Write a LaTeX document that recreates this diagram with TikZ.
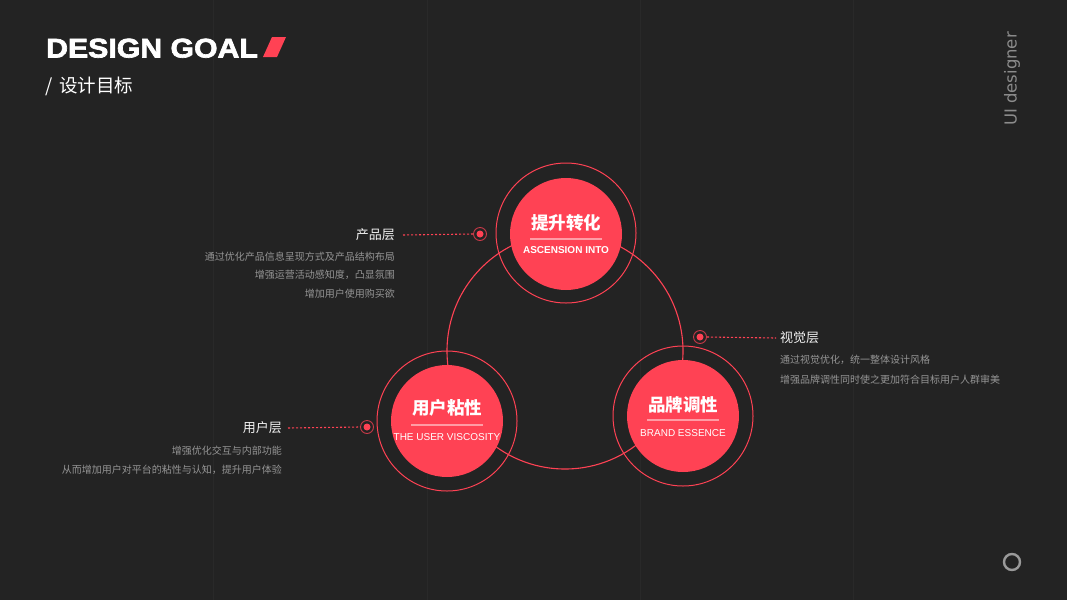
\documentclass[tikz,border=0pt]{standalone}
\usepackage{fontspec}
\setmainfont{Liberation Sans}
\newfontfamily\cjk{Noto Sans CJK SC}
\newfontfamily\titlefont[UprightFont={* Bold},FakeBold=2.5,FakeStretch=1.12]{Liberation Sans}
\newfontfamily\dvs{DejaVu Sans}
\definecolor{bg}{HTML}{232323}
\definecolor{gridc}{HTML}{292929}
\definecolor{accent}{HTML}{FF4254}
\definecolor{lightpink}{HTML}{FF9CA5}
\definecolor{txtgray}{HTML}{959595}
\definecolor{sidegray}{HTML}{8C8C8C}
\definecolor{pagegray}{HTML}{9A9A9A}
\definecolor{labelwhite}{HTML}{F2F2F2}
\begin{document}
\begin{tikzpicture}[x=1pt,y=-1pt,
  disk/.style={circle,fill=accent,minimum size=112pt,inner sep=0pt},
  ring/.style={circle,draw=accent,line width=1pt,minimum size=140pt,inner sep=0pt},
  ctitle/.style={text=white,font=\fontsize{17.5}{17.5}\cjk\bfseries,inner sep=0pt},
  cen/.style={text=white,font=\fontsize{10}{10}\selectfont,inner sep=0pt},
  uline/.style={draw=lightpink,line width=1.3pt},
  dotfill/.style={circle,fill=accent,minimum size=7pt,inner sep=0pt},
  dotring/.style={circle,draw=accent!75!bg,line width=0.9pt,minimum size=13pt,inner sep=0pt},
  dotline/.style={draw=accent,line width=1.1pt,dash pattern=on 2.2pt off 1.8pt},
  label/.style={text=labelwhite,font=\fontsize{13}{13}\cjk,inner sep=0pt},
  desc/.style={text=txtgray,font=\fontsize{10}{10}\cjk,inner sep=0pt}
]
% background
\fill[bg] (0,0) rectangle (1067,600);
\useasboundingbox (0,0) rectangle (1067,600);
\foreach \gx in {213,427,640,853} \draw[gridc,line width=1pt] (\gx,0) -- (\gx,600);

% title
\node[anchor=base west,inner sep=0pt,text=white,font=\fontsize{27}{27}\titlefont] (title) at (46,57.5) {DESIGN GOAL};
\fill[accent] (272,37) -- (286,37) -- (277,57) -- (263,57) -- cycle;
\node[anchor=west,inner sep=0pt,text=white,font=\fontsize{18.5}{18.5}\cjk] (subtitle) at (45,86) {/\hspace{7pt}设计目标};

% side text
\node[rotate=90,inner sep=0pt,text=sidegray,font=\fontsize{16.5}{16.5}\dvs] (side) at (1012,79) {UI designer};
\node[circle,draw=pagegray,line width=2.4pt,minimum size=16pt,inner sep=0pt] (page) at (1012,562) {};

% connecting circle
\draw[accent,line width=1.1pt] (565,351) circle[radius=118];

% top circle
\node[ring] (ringA) at (566,233) {};
\node[disk] (A) at (566,234) {};
\node[ctitle] (At) at (566,223) {提升转化};
\draw[uline] (530,239) -- (602,239);
\node[cen,font=\fontsize{10}{10}\bfseries] (Ae) at (566,250) {ASCENSION INTO};

% left circle
\node[ring] (ringB) at (447,421) {};
\node[disk] (B) at (447,421) {};
\node[ctitle] (Bt) at (447,408) {用户粘性};
\draw[uline] (411,425) -- (483,425);
\node[cen] (Be) at (447,437) {THE USER VISCOSITY};

% right circle
\node[ring] (ringC) at (683,416) {};
\node[disk] (C) at (683,416) {};
\node[ctitle] (Ct) at (683,405) {品牌调性};
\draw[uline] (647,420) -- (719,420);
\node[cen] (Ce) at (683,433) {BRAND ESSENCE};

% product layer
\node[dotfill] (d1) at (480,234) {};
\node[dotring] (r1) at (480,234) {};
\node[label,anchor=east] (l1) at (395,235) {产品层};
\draw[dotline] ([xshift=8pt]l1.east) -- (r1.west);
\node[desc,anchor=east] (l1a) at (395,257) {通过优化产品信息呈现方式及产品结构布局};
\node[desc,anchor=east] (l1b) at (395,275) {增强运营活动感知度，凸显氛围};
\node[desc,anchor=east] (l1c) at (395,294) {增加用户使用购买欲};

% visual layer
\node[dotfill] (d2) at (700,337) {};
\node[dotring] (r2) at (700,337) {};
\node[label,anchor=west] (l2) at (780,338) {视觉层};
\draw[dotline] (r2.east) -- ([xshift=-4pt]l2.west);
\node[desc,anchor=west] (l2a) at (780,360) {通过视觉优化，统一整体设计风格};
\node[desc,anchor=west] (l2b) at (780,380) {增强品牌调性同时使之更加符合目标用户人群审美};

% user layer
\node[dotfill] (d3) at (367,427) {};
\node[dotring] (r3) at (367,427) {};
\node[label,anchor=east] (l3) at (282,428) {用户层};
\draw[dotline] ([xshift=6pt]l3.east) -- (r3.west);
\node[desc,anchor=east] (l3a) at (282,451) {增强优化交互与内部功能};
\node[desc,anchor=east] (l3b) at (282,470) {从而增加用户对平台的粘性与认知，提升用户体验};
\end{tikzpicture}
\end{document}
